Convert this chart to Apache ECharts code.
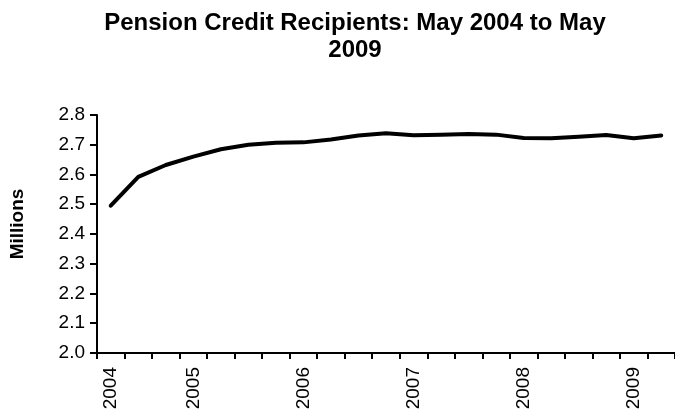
<!DOCTYPE html>
<html>
<head>
<meta charset="utf-8">
<script src="https://cdn.jsdelivr.net/npm/echarts@6/dist/echarts.min.js"></script>
<style>
html,body{margin:0;padding:0;background:#fff;}
#chart{width:675px;height:419px;}
</style>
</head>
<body>
<div id="chart"></div>
<script>
// Quarterly categories (May 2004 .. May 2009)
var categories = [
  "May 2004","Aug 2004","Nov 2004",
  "Feb 2005","May 2005","Aug 2005","Nov 2005",
  "Feb 2006","May 2006","Aug 2006","Nov 2006",
  "Feb 2007","May 2007","Aug 2007","Nov 2007",
  "Feb 2008","May 2008","Aug 2008","Nov 2008",
  "Feb 2009","May 2009"
];
// Tick labels shown under the axis (one per category, blank where none)
var tickLabels = [
  "2004","","",
  "2005","","","",
  "2006","","","",
  "2007","","","",
  "2008","","","",
  "2009",""
];
// Recipients, millions
var recipients = [
  2.495, 2.592, 2.632,
  2.660, 2.685, 2.700, 2.707,
  2.708, 2.718, 2.731, 2.739,
  2.732, 2.734, 2.736, 2.734,
  2.723, 2.722, 2.727, 2.733,
  2.722, 2.731
];
var yTicks = { min: 2.0, max: 2.8, step: 0.1 };

var chart = echarts.init(document.getElementById('chart'), null, {renderer: 'canvas'});
var font = 'Arial, "Liberation Sans", sans-serif';
chart.setOption({
  animation: false,
  backgroundColor: '#ffffff',
  title: {
    text: 'Pension Credit Recipients: May 2004 to May\n2009',
    left: 355,
    top: 10,
    padding: 0,
    textAlign: 'center',
    textStyle: {
      fontFamily: font,
      fontWeight: 'bold',
      fontSize: 24,
      lineHeight: 27,
      color: '#000'
    }
  },
  grid: {
    left: 97,
    right: -6,
    top: 115,
    bottom: 66,
    containLabel: false
  },
  xAxis: {
    type: 'category',
    data: categories,
    boundaryGap: true,
    axisLine: { lineStyle: { color: '#000', width: 2 } },
    axisTick: { show: true, interval: 0, length: 6, lineStyle: { color: '#000', width: 2 } },
    axisLabel: {
      interval: 0,
      rotate: 90,
      margin: 14,
      fontFamily: font,
      fontSize: 19,
      color: '#000',
      formatter: function (v, i) { return tickLabels[i]; }
    },
    splitLine: { show: false }
  },
  yAxis: {
    type: 'value',
    min: yTicks.min,
    max: yTicks.max,
    interval: yTicks.step,
    name: 'Millions',
    nameLocation: 'middle',
    nameGap: 70,
    nameRotate: 90,
    nameTextStyle: { fontFamily: font, fontWeight: 'bold', fontSize: 19, color: '#000', padding: [0, 0, 0, 20] },
    axisLine: { show: true, lineStyle: { color: '#000', width: 2 } },
    axisTick: { show: true, length: 7, lineStyle: { color: '#000', width: 2 } },
    axisLabel: {
      margin: 12,
      fontFamily: font,
      fontSize: 19,
      color: '#000',
      formatter: function (v) { return v.toFixed(1); }
    },
    splitLine: { show: false }
  },
  series: [{
    type: 'line',
    data: recipients,
    showSymbol: false,
    symbol: 'none',
    lineStyle: { color: '#000', width: 4, cap: 'round', join: 'round' },
    itemStyle: { color: '#000' }
  }]
});
</script>
</body>
</html>
